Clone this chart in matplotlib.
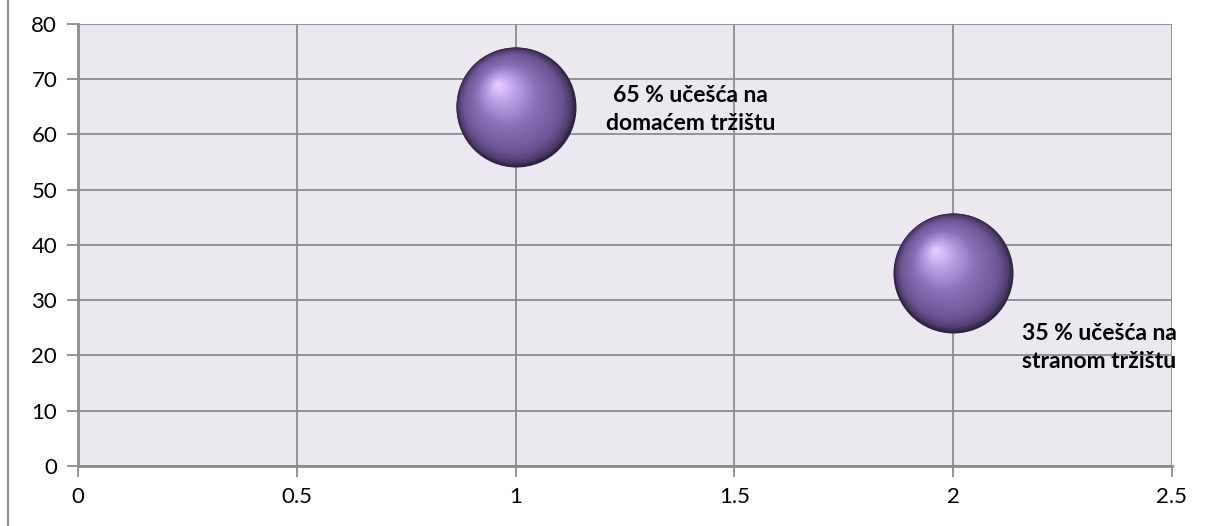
import numpy as np
import matplotlib
matplotlib.use("Agg")
import matplotlib.pyplot as plt
import matplotlib.transforms as mtransforms
from matplotlib.colors import LinearSegmentedColormap
from matplotlib.lines import Line2D

# ---- data ----
x_vals = [1, 2]
y_vals = [65, 35]
labels = ["65 % učešća na\ndomaćem tržištu", "35 % učešća na\nstranom tržištu"]
x_ticks = [0, 0.5, 1, 1.5, 2, 2.5]
x_tick_labels = ["0", "0.5", "1", "1.5", "2", "2.5"]
y_ticks = [0, 10, 20, 30, 40, 50, 60, 70, 80]

plt.rcParams['font.family'] = ['Lato', 'DejaVu Sans']

fig = plt.figure(figsize=(12.14, 5.26), dpi=100)
ax = fig.add_axes([0.0643, 0.1141, 0.9011, 0.8403])
ax.set_facecolor('#EBE9EF')

ax.set_xlim(0, 2.5)
ax.set_ylim(0, 80)
ax.set_xticks(x_ticks)
ax.set_xticklabels(x_tick_labels)
ax.set_yticks(y_ticks)
ax.grid(True, color='#8C8C8C', linewidth=1.3)
ax.set_axisbelow(True)
for s in ['top', 'right']:
    ax.spines[s].set_visible(False)
for s in ['left', 'bottom']:
    ax.spines[s].set_color('#8C8C8C')
    ax.spines[s].set_linewidth(2)
ax.tick_params(axis='both', direction='out', length=8, width=1.3, color='#8C8C8C',
               labelsize=16, labelcolor='black', pad=7)

# sphere rendering: layered circles shifted toward the highlight
R_px = 60.0
pt_per_px = 72.0 / fig.dpi
cmap = LinearSegmentedColormap.from_list(
    'sph', [(0.0, '#2E2240'), (0.06, '#4E3C6A'), (0.18, '#6D5595'),
            (0.5, '#8A70B6'), (0.8, '#BFA3E8'), (1.0, '#E6CCFF')])
N = 60
hx, hy = -0.30 * R_px, 0.38 * R_px
for xv, yv in zip(x_vals, y_vals):
    for i in range(N):
        t = i / (N - 1)
        r = R_px * (1 - 0.97 * t)
        off = mtransforms.offset_copy(ax.transData, fig=fig,
                                      x=t * hx * pt_per_px, y=t * hy * pt_per_px,
                                      units='points')
        d_pt = 2 * r * pt_per_px
        ax.scatter([xv], [yv], s=d_pt ** 2, color=cmap(t), transform=off,
                   linewidths=0, zorder=3 + i * 0.001, clip_on=False)

# labels
ax.annotate(labels[0], (x_vals[0], y_vals[0]), xytext=(126, -2), textcoords='offset points',
            ha='center', va='center', fontsize=16.5, fontweight='bold', linespacing=1.45, zorder=10)
ax.annotate(labels[1], (x_vals[1], y_vals[1]), xytext=(105, -54), textcoords='offset points',
            ha='center', va='center', fontsize=16.5, fontweight='bold', linespacing=1.45, zorder=10)

fig.add_artist(Line2D([8 / 1214, 8 / 1214], [0, 1], transform=fig.transFigure,
                      color='#8C8C8C', linewidth=1.5))

fig.savefig('out.png', dpi=100)
